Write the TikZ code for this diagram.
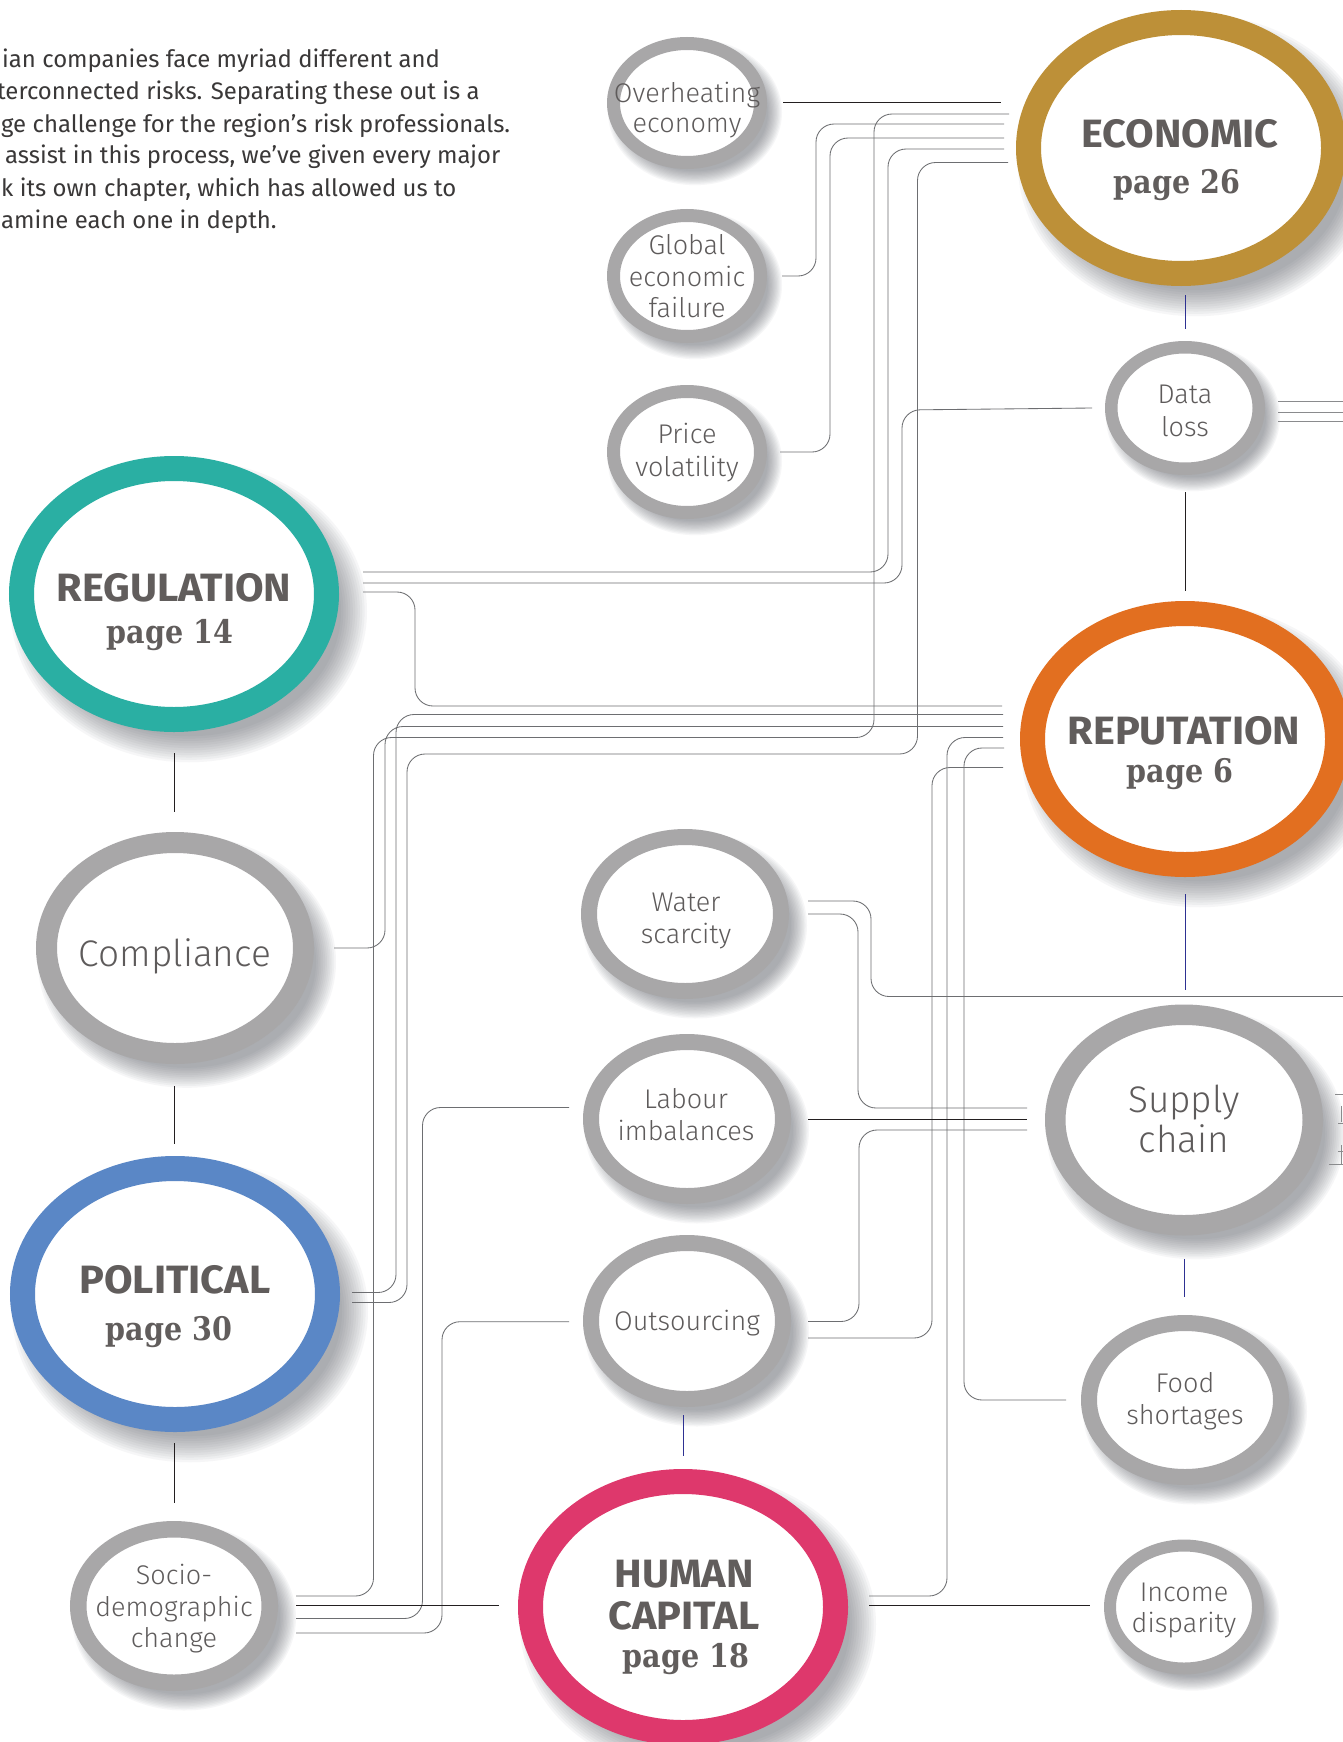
\documentclass[tikz,border=0pt]{standalone}
\usepackage{fontspec}
\setmainfont{Fira Sans}
\newfontfamily\lightf{Fira Sans Light}
\newfontfamily\titlef{Fira Sans}[FakeStretch=1.05]
\newfontfamily\slabf{DejaVu Serif}[FakeStretch=0.88]
\usetikzlibrary{shapes.geometric}

\definecolor{ringgray}{HTML}{A8A7A8}
\definecolor{gold}{HTML}{BD9038}
\definecolor{teal}{HTML}{2AAFA3}
\definecolor{orange}{HTML}{E26F20}
\definecolor{polblue}{HTML}{5A87C6}
\definecolor{pink}{HTML}{DE386C}
\definecolor{wiregray}{HTML}{6D6E71}
\definecolor{wiredark}{HTML}{231F20}
\definecolor{wireblue}{HTML}{2E3192}
\definecolor{labeltext}{HTML}{5E5B5B}
\definecolor{titletext}{HTML}{615D5C}
\definecolor{paratext}{HTML}{3A3838}
\definecolor{shadowgray}{HTML}{4A4E58}

% ring: name, x, y, outer x radius, outer y radius, thickness, colour, shadow offset, shadow softness
\newcommand\riskring[9]{%
  \foreach \k in {0,...,11}{%
    \fill[shadowgray, fill opacity=0.047]
      ({#2+#8},{#3+1.15*#8}) ellipse ({(#4+#9-2*#9*\k/11)*1pt} and {(#5+#9-2*#9*\k/11)*1pt});
  }
  \node[ellipse, draw=#7, line width=#6pt, fill=white, inner sep=0pt,
        minimum width={(2*#4-#6)*1pt}, minimum height={(2*#5-#6)*1pt}] (#1) at (#2,#3) {};
}

\begin{document}
\begin{tikzpicture}[x=1pt,y=-1pt,
  wire/.style={draw=wiregray, line width=0.85pt, rounded corners=18pt},
  darkwire/.style={draw=wiredark, line width=1pt},
  bluewire/.style={draw=wireblue, line width=1pt},
  stub/.style={draw=wiregray!80, line width=0.8pt},
  lbl/.style={font=\lightf\fontsize{27}{32}\selectfont, text=labeltext, anchor=base, inner sep=0pt},
  biglbl/.style={font=\lightf\fontsize{37}{40}\selectfont, text=labeltext, anchor=base, inner sep=0pt},
  ttl/.style={font=\titlef\bfseries\fontsize{39.5}{42}\selectfont, text=titletext, anchor=base, inner sep=0pt},
  pg/.style={font=\slabf\bfseries\fontsize{32.5}{36}\selectfont, text=titletext, anchor=base, inner sep=0pt},
  para/.style={font=\fontsize{23.9}{32}\selectfont, text=paratext, anchor=base west, inner sep=0pt}]

\fill[white] (0,0) rectangle (1343,1742);
\useasboundingbox (0,0) rectangle (1343,1742);

% ---------- rings ----------
\riskring{overheat}{687}{103}{80}{66}{13}{ringgray}{8}{7}
\riskring{glob}{687}{276}{80}{67}{13}{ringgray}{8}{7}
\riskring{price}{687}{452}{80}{67}{13}{ringgray}{8}{7}
\riskring{econ}{1181}{148}{165}{138}{25}{gold}{15}{13}
\riskring{dataloss}{1185}{408}{80}{67}{12.5}{ringgray}{8}{7}
\riskring{reg}{174}{594}{165}{138}{25}{teal}{15}{13}
\riskring{reput}{1185}{739}{165}{138}{25}{orange}{15}{13}
\riskring{compl}{175}{948}{139}{116}{21}{ringgray}{12}{10}
\riskring{water}{685}{914}{104}{85}{16}{ringgray}{10}{8}
\riskring{labour}{687}{1119}{104}{85}{16}{ringgray}{10}{8}
\riskring{outsrc}{687}{1321}{104}{86}{16}{ringgray}{10}{8}
\riskring{supply}{1184}{1120}{139}{115.5}{20.5}{ringgray}{12}{10}
\riskring{polit}{175}{1294}{165}{138}{25}{polblue}{15}{13}
\riskring{food}{1185}{1400}{104}{85}{16}{ringgray}{10}{8}
\riskring{socio}{174}{1606}{104}{85}{16.5}{ringgray}{10}{8}
\riskring{human}{683}{1607}{165}{138}{25}{pink}{15}{13}
\riskring{income}{1184}{1607}{80}{67.5}{12}{ringgray}{8}{7}

% ---------- connectors ----------
\draw[darkwire] ([xshift=16pt]overheat.east) -- ([xshift=-15pt]econ.west |- overheat.east);
\draw[wire] ([xshift=15pt]glob.east) -- (816,276) -- (816,124) -- (1004,124);
\draw[wire] ([xshift=13pt]price.east) -- (830,452) -- (830,138) -- (1004,138);
\draw[wire] (1009,114) -- (874,114) -- (874,737.5) -- (373.5,737.5) -- (373.5,1596) -- (296,1596);
\draw[wire] (1004,149) -- (888,149) -- (888,572) -- (363,572);
\draw[wire] ([xshift=-13pt]dataloss.west) -- (902,410) -- (902,583) -- (363,583);
\draw[wire] (1008,162.5) -- (917.5,162.5) -- (917.5,754) -- (407,754) -- (407,1302.5) -- (352,1302.5);
\draw[wire] (363,592) -- (415,592) -- (415,706) -- (1002,706);
\draw[wire] (1003,714.5) -- (396,714.5) -- (396,1292.5) -- (352,1292.5);
\draw[wire] (1003,726.5) -- (385,726.5) -- (385,948) -- (334,948);
\draw[wire] (869,1596) -- (947,1596) -- (947,737.5) -- (1003,737.5);
\draw[wire] ([xshift=-15pt]food.west) -- (964,1400) -- (964,748) -- (1004,748);
\draw[wire] (808,1338) -- (932,1338) -- (932,767.5) -- (1003,767.5);
\draw[wire] (808,901) -- (871,901) -- (871,996.5) -- (1343,996.5);
\draw[wire] (808,914) -- (858,914) -- (858,1108) -- (1027,1108);
\draw[darkwire] (808,1119.5) -- (1027,1119.5);
\draw[wire] (808,1321.5) -- (859,1321.5) -- (859,1130) -- (1027,1130);
\draw[wire] (569,1107.5) -- (422.5,1107.5) -- (422.5,1618.5) -- (296,1618.5);
\draw[wire] (569,1321.7) -- (442,1321.7) -- (442,1633) -- (296,1633);
\draw[darkwire] (296,1605.3) -- (499,1605.3);
\draw[darkwire] (869,1605.3) -- ([xshift=-14pt]income.west |- 0,1605.3);

% short links between stacked rings
\draw[bluewire] (1185,295) -- (1185,329);
\draw[darkwire] (1185,492) -- (1185,591);
\draw[bluewire] (1185,894) -- (1185,990);
\draw[bluewire] (1184,1259) -- (1184,1297);
\draw[bluewire] (683,1415) -- (683,1456);
\draw[darkwire] (174,753) -- (174,812);
\draw[darkwire] (174,1086) -- (174,1144);
\draw[darkwire] (174,1443) -- (174,1503);

% lines running off the right edge
\draw[stub] (1278,401.8) -- (1343,401.8);
\draw[stub] (1278,412.5) -- (1343,412.5);
\draw[stub] (1278,421.4) -- (1343,421.4);
\draw[stub] (1335,1094.7) -- (1343,1094.7);
\draw[stub] (1338,1123) -- (1343,1123);
\draw[stub] (1338,1151.4) -- (1343,1151.4);
\draw[stub] (1329,1164.7) -- (1343,1164.7);
\draw[stub] (1341.7,1106) -- (1341.7,1122);
\draw[stub] (1341.7,1145) -- (1341.7,1164);

% ---------- labels ----------
\node[lbl] (overheat-1) at (687,103) {Overheating};
\node[lbl] (overheat-2) at (687,132) {economy};
\node[lbl] (glob-1) at (687,254) {Global};
\node[lbl] (glob-2) at (687,286) {economic};
\node[lbl] (glob-3) at (687,317) {failure};
\node[lbl] (price-1) at (687,443) {Price};
\node[lbl] (price-2) at (687,476) {volatility};
\node[lbl] (dataloss-1) at (1185,403) {Data};
\node[lbl] (dataloss-2) at (1185,436) {loss};
\node[biglbl] (compl-1) at (175,966) {Compliance};
\node[lbl] (water-1) at (686,911) {Water};
\node[lbl] (water-2) at (686,943) {scarcity};
\node[lbl] (labour-1) at (686,1108) {Labour};
\node[lbl] (labour-2) at (686,1140) {imbalances};
\node[lbl] (outsrc-1) at (687,1330) {Outsourcing};
\node[biglbl] (supply-1) at (1184,1112) {Supply};
\node[biglbl] (supply-2) at (1184,1152) {chain};
\node[lbl] (food-1) at (1185,1392) {Food};
\node[lbl] (food-2) at (1185,1424) {shortages};
\node[lbl] (socio-1) at (174,1584) {Socio-};
\node[lbl] (socio-2) at (174,1616) {demographic};
\node[lbl] (socio-3) at (174,1647) {change};
\node[lbl] (income-1) at (1184,1601) {Income};
\node[lbl] (income-2) at (1184,1632) {disparity};

\node[ttl] (econ-1) at (1180,147) {ECONOMIC};
\node[pg]  (econ-2) at (1177,193) {page 26};
\node[ttl] (reg-1) at (174,601) {REGULATION};
\node[pg]  (reg-2) at (170,643) {page 14};
\node[ttl] (reput-1) at (1184,744) {REPUTATION};
\node[pg]  (reput-2) at (1180,782) {page 6};
\node[ttl] (polit-1) at (175,1293) {POLITICAL};
\node[pg]  (polit-2) at (169,1340) {page 30};
\node[ttl] (human-1) at (684,1587) {HUMAN};
\node[ttl] (human-2) at (684,1629) {CAPITAL};
\node[pg]  (human-3) at (686,1667) {page 18};

% ---------- intro text ----------
\node[para] (intro-1) at (2,68) {ian companies face myriad different and};
\node[para] (intro-2) at (-3,100) {terconnected risks. Separating these out is a};
\node[para] (intro-3) at (1,132) {ge challenge for the region’s risk professionals.};
\node[para] (intro-4) at (5,164) {assist in this process, we’ve given every major};
\node[para] (intro-5) at (1,196) {k its own chapter, which has allowed us to};
\node[para] (intro-6) at (1,228) {amine each one in depth.};
\end{tikzpicture}
\end{document}
